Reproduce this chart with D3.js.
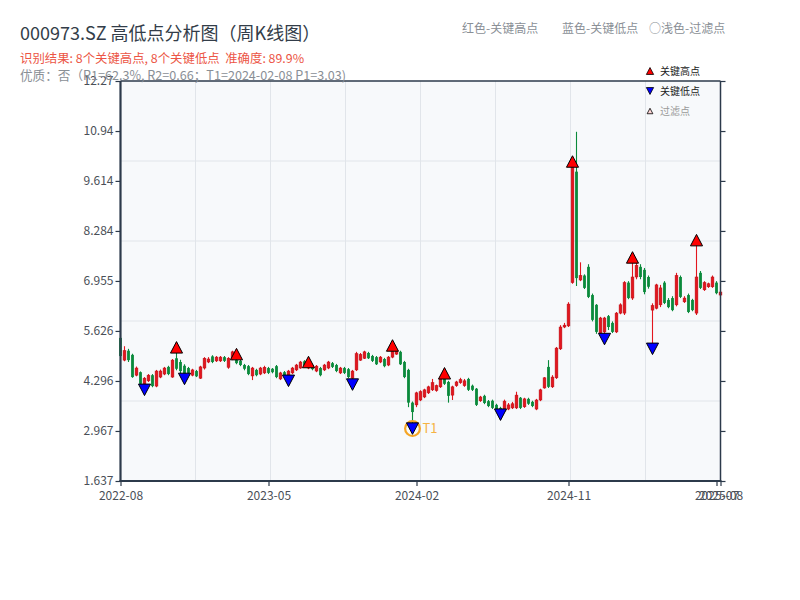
<!DOCTYPE html>
<meta charset="utf-8">
<script src="https://d3js.org/d3.v7.min.js"></script>
<style>
  body { margin: 0; background: #fff; }
  text { font-family: "Noto Sans CJK SC", "Noto Sans", sans-serif; }
</style>
<div id="my_dataviz"></div>
<script>

// weekly candles, one entry per week
var open  = [5.44,4.85,5.10,4.99,4.45,4.53,4.22,4.30,4.45,4.16, 4.40,4.48,4.67,4.40,4.90,4.80,4.70,4.64,4.45,4.56,
             4.37,4.64,4.80,4.95,4.83,4.83,4.93,4.66,4.88,4.86, 4.83,4.72,4.69,4.43,4.59,4.48,4.51,4.64,4.62,4.69,
             4.35,4.53,4.43,4.51,4.59,4.64,4.82,4.64,4.72,4.56, 4.64,4.59,4.64,4.77,4.72,4.51,4.64,4.61,4.37,4.59,
             4.85,4.90,5.04,4.96,4.93,4.80,4.88,4.72,4.93,5.01, 5.07,4.80,4.59,3.72,3.66,3.79,3.87,3.98,4.06,4.04,
             4.14,4.35,4.27,3.92,4.17,4.25,4.17,4.35,4.17,4.09, 3.77,3.90,3.76,3.77,3.66,3.58,3.50,3.55,3.58,3.58,
             3.85,3.61,3.82,3.74,3.55,3.79,4.11,4.67,4.14,4.38, 5.15,5.73,5.76,6.91,9.86,6.98,7.10,7.33,6.58,6.32,
             5.57,5.60,6.02,5.84,5.60,6.10,6.10,6.91,6.50,7.06, 7.33,7.25,7.06,6.18,6.23,6.32,6.91,6.45,6.50,6.32,
             7.06,6.40,6.58,6.45,6.10,7.17,6.72,6.80,6.80,6.91, 6.58];
var close = [4.96,5.10,4.85,4.40,4.64,4.22,4.37,4.45,4.16,4.56, 4.56,4.64,4.48,4.85,4.62,4.56,4.48,4.51,4.59,4.42,
             4.67,4.90,4.88,4.80,4.93,4.93,4.83,4.90,5.07,4.77, 4.72,4.62,4.48,4.64,4.45,4.64,4.66,4.51,4.53,4.40,
             4.51,4.43,4.56,4.64,4.72,4.80,4.72,4.75,4.61,4.69, 4.45,4.72,4.80,4.67,4.56,4.64,4.51,4.40,4.56,5.02,
             5.00,5.07,4.90,4.83,4.74,4.93,4.69,4.93,5.09,5.09, 4.74,4.40,3.72,3.47,3.98,4.01,4.06,4.14,4.25,4.17,
             4.35,4.22,3.90,4.14,4.27,4.33,4.30,4.06,4.06,3.66, 3.87,3.71,3.63,3.58,3.53,3.50,3.76,3.66,3.69,3.92,
             3.58,3.82,3.69,3.63,3.79,4.06,4.38,4.14,4.40,5.17, 5.73,5.78,6.34,9.98,7.03,7.10,6.77,6.53,5.92,5.60,
             5.97,5.97,5.73,5.60,6.10,6.32,6.91,6.50,7.06,7.37, 7.06,6.66,6.80,6.30,6.85,6.77,6.37,6.26,6.18,7.10,
             6.53,6.50,6.13,6.18,7.06,6.77,6.91,6.88,7.06,6.63, 6.66];
var high  = [5.47,5.22,5.15,5.02,4.68,4.55,4.40,4.48,4.48,4.59, 4.60,4.67,4.70,4.88,5.19,4.86,4.74,4.67,4.62,4.59,
             4.70,4.93,4.93,4.98,4.96,4.96,4.96,4.93,5.10,5.01, 4.86,4.75,4.72,4.67,4.62,4.67,4.70,4.67,4.64,4.72,
             4.54,4.56,4.59,4.67,4.75,4.83,4.85,4.80,4.75,4.72, 4.67,4.75,4.83,4.80,4.75,4.67,4.67,4.64,4.59,5.07,
             5.04,5.10,5.07,4.99,4.96,4.96,4.91,4.96,5.24,5.12, 5.10,4.83,4.62,3.75,4.01,4.05,4.09,4.17,4.35,4.20,
             4.38,4.50,4.30,4.17,4.30,4.38,4.35,4.38,4.20,4.11, 3.90,3.93,3.79,3.80,3.69,3.61,3.80,3.71,3.74,4.01,
             3.87,3.85,3.85,3.77,3.82,4.09,4.40,4.85,4.45,5.20, 5.78,5.84,6.39,10.13,10.92,7.45,7.13,7.40,6.62,6.34,
             6.00,6.00,6.05,5.88,6.13,6.36,6.95,6.95,7.58,7.45, 7.40,7.30,7.10,6.36,6.88,6.85,6.95,6.50,6.55,7.17,
             7.10,6.55,6.62,6.48,8.04,7.22,6.95,6.91,7.10,6.95, 6.70];
var low   = [4.93,4.82,4.80,4.38,4.42,4.18,4.06,4.27,4.13,4.13, 4.37,4.45,4.45,4.38,4.58,4.50,4.35,4.45,4.42,4.40,
             4.35,4.60,4.77,4.77,4.80,4.80,4.80,4.62,4.85,4.74, 4.69,4.58,4.45,4.32,4.42,4.45,4.48,4.48,4.50,4.37,
             4.32,4.40,4.30,4.48,4.56,4.62,4.69,4.61,4.58,4.53, 4.42,4.56,4.61,4.64,4.53,4.48,4.48,4.37,4.20,4.56,
             4.83,4.88,4.88,4.80,4.72,4.77,4.66,4.69,4.90,4.99, 4.72,4.37,3.60,3.03,3.60,3.76,3.84,3.95,4.03,4.01,
             4.11,4.19,3.72,3.79,4.14,4.22,4.14,4.03,4.03,3.63, 3.74,3.68,3.60,3.55,3.50,3.40,3.47,3.52,3.55,3.55,
             3.55,3.58,3.66,3.60,3.52,3.76,4.09,4.11,4.11,4.35, 5.12,5.70,5.73,6.88,6.82,6.95,6.74,6.50,5.88,5.55,
             5.54,5.41,5.65,5.57,5.57,6.07,6.05,6.47,6.45,7.00, 7.00,6.60,6.75,5.15,6.20,6.26,6.34,6.23,6.15,6.28,
             6.50,6.37,6.10,6.15,6.05,6.74,6.69,6.77,6.77,6.60, 6.55];

// key turning points (candle index)
var keyHighIdx = [14, 29, 47, 68, 81, 113, 128, 144];
var keyLowIdx  = [6, 16, 42, 58, 73, 95, 121, 133];
var t1Idx = 73;

// axis ticks
var xTickIdx    = [0, 37, 74, 112, 149, 150];
var xTickLabels = ["2022-08", "2023-05", "2024-02", "2024-11", "2025-07", "2025-08"];
var yTicks      = [1.637, 2.967, 4.296, 5.626, 6.955, 8.284, 9.614, 10.94, 12.27];

var W = 800, H = 600;
var margin = {left: 120.5, right: 720.5, top: 81, bottom: 481};
var axisColor = "#2c3a4b";
var upColor = "#e3161e", downColor = "#0a8a3b";

var svg = d3.select("#my_dataviz")
    .append("svg")
    .attr("width", W)
    .attr("height", H);

var x = d3.scaleLinear().domain([0, open.length - 1]).range([margin.left, margin.right]);
var y = d3.scaleLinear().domain([yTicks[0], yTicks[yTicks.length - 1]]).range([margin.bottom, margin.top]);

// plot background
svg.append("rect")
    .attr("x", margin.left).attr("y", margin.top)
    .attr("width", margin.right - margin.left).attr("height", margin.bottom - margin.top)
    .attr("fill", "#f7f9fb");

// grid (fixed 8 x 5 grid)
var gx = d3.scaleLinear().domain([0, 8]).range([margin.left, margin.right]);
var gy = d3.scaleLinear().domain([0, 5]).range([margin.bottom, margin.top]);
svg.append("g").selectAll("line")
    .data(d3.range(1, 8)).enter().append("line")
    .attr("x1", function(d) { return gx(d); }).attr("x2", function(d) { return gx(d); })
    .attr("y1", margin.top).attr("y2", margin.bottom)
    .attr("stroke", "#e1e5ea").attr("stroke-width", 1);
svg.append("g").selectAll("line")
    .data(d3.range(1, 5)).enter().append("line")
    .attr("x1", margin.left).attr("x2", margin.right)
    .attr("y1", function(d) { return gy(d); }).attr("y2", function(d) { return gy(d); })
    .attr("stroke", "#e1e5ea").attr("stroke-width", 1);

// candles
var idx = d3.range(open.length);
var colorOf = function(i) { return close[i] >= open[i] ? upColor : downColor; };
var candles = svg.append("g");
candles.selectAll("line")
    .data(idx).enter().append("line")
    .attr("x1", function(i) { return x(i); }).attr("x2", function(i) { return x(i); })
    .attr("y1", function(i) { return y(high[i]); }).attr("y2", function(i) { return y(low[i]); })
    .attr("stroke", colorOf).attr("stroke-width", 1.1);
candles.selectAll("rect")
    .data(idx).enter().append("rect")
    .attr("x", function(i) { return x(i) - 1.4; })
    .attr("width", 2.8)
    .attr("y", function(i) { return y(Math.max(open[i], close[i])); })
    .attr("height", function(i) { return Math.max(1, Math.abs(y(open[i]) - y(close[i]))); })
    .attr("fill", colorOf)
    .attr("stroke", function(i) { return close[i] >= open[i] ? "#b80f16" : "none"; })
    .attr("stroke-width", 0.5);

// triangle symbols
var triUp = { draw: function(ctx, size) { var s = Math.sqrt(size) / 2;
    ctx.moveTo(0, -s); ctx.lineTo(s * 1.05, s); ctx.lineTo(-s * 1.05, s); ctx.closePath(); } };
var triDown = { draw: function(ctx, size) { var s = Math.sqrt(size) / 2;
    ctx.moveTo(0, s); ctx.lineTo(s * 1.05, -s); ctx.lineTo(-s * 1.05, -s); ctx.closePath(); } };

// T1 ring
svg.append("circle")
    .attr("cx", x(t1Idx)).attr("cy", y(low[t1Idx]))
    .attr("r", 7.4)
    .attr("fill", "none").attr("stroke", "#f5a524").attr("stroke-width", 2.2);

svg.append("g").selectAll("path")
    .data(keyHighIdx).enter().append("path")
    .attr("transform", function(i) { return "translate(" + x(i) + "," + y(high[i]) + ")"; })
    .attr("d", d3.symbol().type(triUp).size(132))
    .attr("fill", "#ff0000").attr("stroke", "#000").attr("stroke-width", 1);

svg.append("g").selectAll("path")
    .data(keyLowIdx).enter().append("path")
    .attr("transform", function(i) { return "translate(" + x(i) + "," + y(low[i]) + ")"; })
    .attr("d", d3.symbol().type(triDown).size(132))
    .attr("fill", "#0000ff").attr("stroke", "#000").attr("stroke-width", 1);

svg.append("text")
    .attr("x", x(t1Idx) + 10).attr("y", y(low[t1Idx]) + 4.5)
    .text("T1")
    .style("fill", "#f5b342")
    .attr("font-size", 13);

// axes
var yAxisL = svg.append("g")
    .attr("transform", "translate(" + margin.left + ",0)")
    .call(d3.axisLeft(y).tickValues(yTicks).tickFormat(function(d, i) { return yTicks[i]; })
        .tickSize(5).tickSizeOuter(0));
var yAxisR = svg.append("g")
    .attr("transform", "translate(" + margin.right + ",0)")
    .call(d3.axisRight(y).tickValues(yTicks).tickFormat("").tickSize(5).tickSizeOuter(0));
var xAxis = svg.append("g")
    .attr("transform", "translate(0," + margin.bottom + ")")
    .call(d3.axisBottom(x).tickValues(xTickIdx).tickFormat(function(d, i) { return xTickLabels[i]; })
        .tickSize(5).tickSizeOuter(0));

svg.selectAll(".domain").remove();
svg.selectAll(".tick line").attr("stroke", axisColor).attr("stroke-width", 1.2);
svg.selectAll(".tick text")
    .style("font-family", "'Noto Sans CJK SC', sans-serif")
    .attr("font-size", 12)
    .attr("fill", "#4a4f57");
yAxisL.selectAll(".tick text").attr("x", -7);
xAxis.selectAll(".tick text").attr("y", 10);

// frame
svg.append("line").attr("x1", margin.left).attr("x2", margin.right).attr("y1", margin.top).attr("y2", margin.top)
    .attr("stroke", axisColor).attr("stroke-width", 1.5);
svg.append("line").attr("x1", margin.right).attr("x2", margin.right).attr("y1", margin.top).attr("y2", margin.bottom)
    .attr("stroke", axisColor).attr("stroke-width", 1.5);
svg.append("line").attr("x1", margin.left).attr("x2", margin.left).attr("y1", margin.top).attr("y2", margin.bottom + 1)
    .attr("stroke", axisColor).attr("stroke-width", 2.2);
svg.append("line").attr("x1", margin.left - 1).attr("x2", margin.right + 1).attr("y1", margin.bottom).attr("y2", margin.bottom)
    .attr("stroke", axisColor).attr("stroke-width", 2.2);

// titles
svg.append('text')
    .attr('x', 20).attr('y', 40)
    .text('000973.SZ 高低点分析图（周K线图）')
    .style("fill", "#333d49")
    .attr('font-size', 18);

svg.append('text')
    .attr('x', 20).attr('y', 63)
    .text('识别结果: 8个关键高点, 8个关键低点  准确度: 89.9%')
    .style("fill", "#ec5545")
    .style("white-space", "pre")
    .attr('font-size', 12.4);

svg.append('text')
    .attr('x', 20).attr('y', 80)
    .text('优质：否（R1=62.3%, R2=0.66；T1=2024-02-08 P1=3.03)')
    .style("fill", "#8a8f96")
    .attr('font-size', 12.6);

svg.append('text').attr('x', 462).attr('y', 33)
    .text('红色-关键高点').style("fill", "#8a8f96").attr('font-size', 12);
svg.append('text').attr('x', 562).attr('y', 33)
    .text('蓝色-关键低点').style("fill", "#8a8f96").attr('font-size', 12);
svg.append('text').attr('x', 649).attr('y', 33)
    .text('○浅色-过滤点').style("fill", "#8a8f96").attr('font-size', 12);

// legend
var legend = [
    {label: "关键高点", type: triUp, fill: "#ff0000", color: "#222", size: 48},
    {label: "关键低点", type: triDown, fill: "#0000ff", color: "#222", size: 48},
    {label: "过滤点", type: triUp, fill: "#ffd6d6", color: "#999", size: 30}
];
var lg = svg.append("g").selectAll("g")
    .data(legend).enter().append("g")
    .attr("transform", function(d, i) { return "translate(650," + (71 + i * 20) + ")"; });
lg.append("path")
    .attr("d", function(d) { return d3.symbol().type(d.type).size(d.size)(); })
    .attr("fill", function(d) { return d.fill; })
    .attr("stroke", "#000").attr("stroke-width", 0.8);
lg.append("text")
    .attr("x", 10).attr("y", 4)
    .text(function(d) { return d.label; })
    .style("fill", function(d) { return d.color; })
    .attr("font-size", 10);

</script>
